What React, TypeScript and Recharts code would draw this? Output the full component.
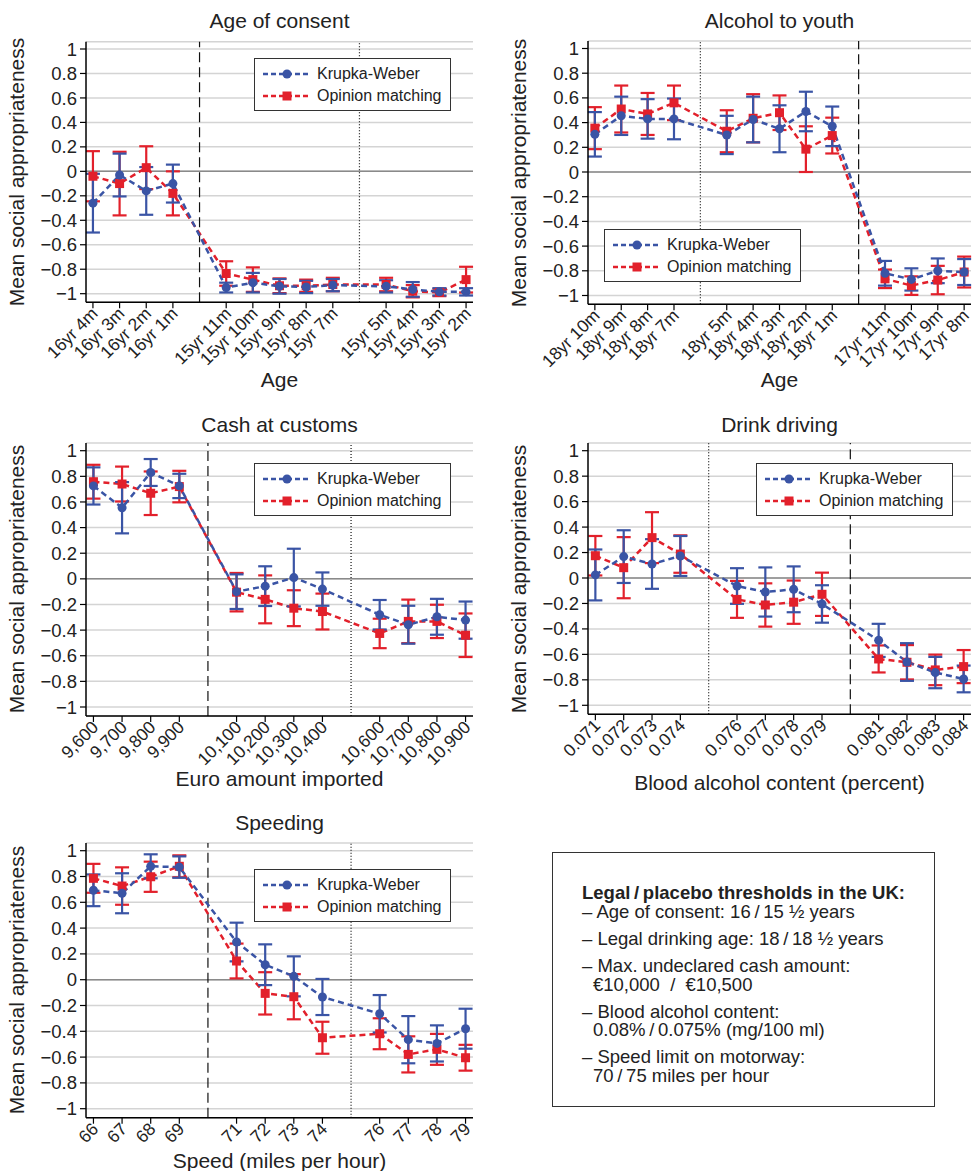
import React from "react";
import { LineChart, Line, XAxis, YAxis, CartesianGrid, ReferenceLine, ErrorBar } from "recharts";

const BLUE = "#3a54a5";
const RED = "#e2202b";
const INK = "#222";
const FONT = "'Liberation Sans', Arial, Helvetica, sans-serif";

// Age of consent ("" marks the threshold slots without observations)
const consentLabels = ["16yr 4m", "16yr 3m", "16yr 2m", "16yr 1m", "", "15yr 11m", "15yr 10m", "15yr 9m", "15yr 8m", "15yr 7m", "", "15yr 5m", "15yr 4m", "15yr 3m", "15yr 2m"];
const consentKW = [-0.26, -0.03, -0.16, -0.1, null, -0.95, -0.91, -0.94, -0.945, -0.93, null, -0.94, -0.965, -0.985, -0.985];
const consentKWErr = [0.24, 0.175, 0.195, 0.155, null, 0.04, 0.08, 0.06, 0.05, 0.05, null, 0.05, 0.06, 0.03, 0.03];
const consentOM = [-0.04, -0.1, 0.03, -0.18, null, -0.835, -0.885, -0.935, -0.935, -0.925, null, -0.925, -0.98, -0.99, -0.885];
const consentOMErr = [0.205, 0.26, 0.175, 0.18, null, 0.1, 0.1, 0.06, 0.05, 0.055, null, 0.055, 0.05, 0.03, 0.105];

// Alcohol to youth
const alcoholLabels = ["18yr 10m", "18yr 9m", "18yr 8m", "18yr 7m", "", "18yr 5m", "18yr 4m", "18yr 3m", "18yr 2m", "18yr 1m", "", "17yr 11m", "17yr 10m", "17yr 9m", "17yr 8m"];
const alcoholKW = [0.305, 0.455, 0.43, 0.43, null, 0.3, 0.425, 0.35, 0.49, 0.37, null, -0.82, -0.87, -0.8, -0.81];
const alcoholKWErr = [0.18, 0.155, 0.16, 0.165, null, 0.155, 0.185, 0.19, 0.16, 0.16, null, 0.1, 0.09, 0.1, 0.105];
const alcoholOM = [0.355, 0.51, 0.47, 0.56, null, 0.33, 0.435, 0.48, 0.185, 0.295, null, -0.865, -0.92, -0.875, -0.81];
const alcoholOMErr = [0.17, 0.19, 0.17, 0.14, null, 0.17, 0.195, 0.14, 0.185, 0.145, null, 0.075, 0.075, 0.115, 0.125];

// Cash at customs
const cashLabels = ["9,600", "9,700", "9,800", "9,900", "", "10,100", "10,200", "10,300", "10,400", "", "10,600", "10,700", "10,800", "10,900"];
const cashKW = [0.725, 0.555, 0.83, 0.725, null, -0.1, -0.057, 0.01, -0.08, null, -0.28, -0.358, -0.296, -0.322];
const cashKWErr = [0.145, 0.2, 0.105, 0.095, null, 0.135, 0.155, 0.225, 0.13, null, 0.115, 0.148, 0.14, 0.145];
const cashOM = [0.758, 0.74, 0.668, 0.72, null, -0.104, -0.16, -0.229, -0.255, null, -0.426, -0.332, -0.332, -0.44];
const cashOMErr = [0.132, 0.136, 0.17, 0.123, null, 0.15, 0.187, 0.14, 0.14, null, 0.115, 0.17, 0.13, 0.17];

// Drink driving
const drinkLabels = ["0.071", "0.072", "0.073", "0.074", "", "0.076", "0.077", "0.078", "0.079", "", "0.081", "0.082", "0.083", "0.084"];
const drinkKW = [0.024, 0.168, 0.11, 0.173, null, -0.063, -0.11, -0.089, -0.204, null, -0.49, -0.66, -0.743, -0.793];
const drinkKWErr = [0.2, 0.207, 0.195, 0.157, null, 0.14, 0.193, 0.18, 0.147, null, 0.13, 0.148, 0.123, 0.105];
const drinkOM = [0.175, 0.081, 0.317, 0.188, null, -0.168, -0.212, -0.19, -0.128, null, -0.636, -0.662, -0.722, -0.696];
const drinkOMErr = [0.155, 0.24, 0.2, 0.147, null, 0.145, 0.17, 0.17, 0.17, null, 0.106, 0.135, 0.12, 0.13];

// Speeding
const speedLabels = ["66", "67", "68", "69", "", "71", "72", "73", "74", "", "76", "77", "78", "79"];
const speedKW = [0.693, 0.67, 0.879, 0.873, null, 0.292, 0.116, 0.026, -0.134, null, -0.264, -0.465, -0.494, -0.38];
const speedKWErr = [0.123, 0.155, 0.093, 0.083, null, 0.15, 0.158, 0.155, 0.14, null, 0.145, 0.183, 0.14, 0.155];
const speedOM = [0.786, 0.726, 0.798, 0.879, null, 0.145, -0.106, -0.132, -0.45, null, -0.419, -0.579, -0.54, -0.605];
const speedOMErr = [0.112, 0.145, 0.117, 0.085, null, 0.135, 0.164, 0.175, 0.124, null, 0.12, 0.14, 0.12, 0.1];

const yTicks = [-1, -0.8, -0.6, -0.4, -0.2, 0, 0.2, 0.4, 0.6, 0.8, 1];

const boxTitle = "Legal\u2009/\u2009placebo thresholds in the UK:";
const boxItems = [
  ["\u2013 Age of consent: 16\u2009/\u200915 \u00bd years"],
  ["\u2013 Legal drinking age: 18\u2009/\u200918 \u00bd years"],
  ["\u2013 Max. undeclared cash amount:", "\u20ac10,000  /  \u20ac10,500"],
  ["\u2013 Blood alcohol content:", "0.08%\u2009/\u20090.075% (mg/100 ml)"],
  ["\u2013 Speed limit on motorway:", "70\u2009/\u200975 miles per hour"],
];

const panels = [
  { title: "Age of consent", xTitle: "Age", labels: consentLabels, kw: consentKW, kwErr: consentKWErr, om: consentOM, omErr: consentOMErr,
    dashed: 4, dotted: 10, left: 0, top: 0, plotL: 86, plotR: 473, y1: 49, ym1: 293.7, titleY: 21, xTitleY: 380, yTitleX: 17, legend: [254, 58] },
  { title: "Alcohol to youth", xTitle: "Age", labels: alcoholLabels, kw: alcoholKW, kwErr: alcoholKWErr, om: alcoholOM, omErr: alcoholOMErr,
    dashed: 10, dotted: 4, left: 487, top: 0, plotL: 588, plotR: 971, y1: 48.5, ym1: 295.5, titleY: 21, xTitleY: 380, yTitleX: 519, legend: [604, 229] },
  { title: "Cash at customs", xTitle: "Euro amount imported", labels: cashLabels, kw: cashKW, kwErr: cashKWErr, om: cashOM, omErr: cashOMErr,
    dashed: 4, dotted: 9, left: 0, top: 405, plotL: 86, plotR: 473, y1: 450.7, ym1: 707, titleY: 425, xTitleY: 779, yTitleX: 17, legend: [254, 463] },
  { title: "Drink driving", xTitle: "Blood alcohol content (percent)", labels: drinkLabels, kw: drinkKW, kwErr: drinkKWErr, om: drinkOM, omErr: drinkOMErr,
    dashed: 9, dotted: 4, left: 487, top: 405, plotL: 588, plotR: 971, y1: 450.7, ym1: 705.3, titleY: 425, xTitleY: 783, yTitleX: 519, legend: [756, 463] },
  { title: "Speeding", xTitle: "Speed (miles per hour)", labels: speedLabels, kw: speedKW, kwErr: speedKWErr, om: speedOM, omErr: speedOMErr,
    dashed: 4, dotted: 9, left: 0, top: 805, plotL: 86, plotR: 473, y1: 850.7, ym1: 1108.7, titleY: 823, xTitleY: 1161, yTitleX: 17, legend: [254, 869] },
];

const fmtY = (v: number) => {
  if (v === 0) return "0";
  if (v === 1) return "1";
  if (v === -1) return "\u22121";
  return v < 0 ? "\u2212" + Math.abs(v).toFixed(1) : v.toFixed(1);
};

const square = (props: any) => {
  const { cx, cy, index } = props;
  if (cx == null || cy == null) return <g key={`sq-${index}`} />;
  return <rect key={`sq-${index}`} x={cx - 4.5} y={cy - 4.5} width={9} height={9} fill={RED} />;
};

const LegendBox = ({ x, y }: { x: number; y: number }) => (
  <div style={{ position: "absolute", left: x, top: y, width: 197, height: 53, boxSizing: "border-box", border: "1.5px solid #333", background: "#fff", fontFamily: FONT, fontSize: 16, color: INK }}>
    {[{ c: BLUE, name: "Krupka-Weber", sq: false }, { c: RED, name: "Opinion matching", sq: true }].map((r, i) => (
      <div key={r.name} style={{ position: "absolute", left: 8, top: 4 + i * 22, height: 22, display: "flex", alignItems: "center", whiteSpace: "nowrap" }}>
        <svg width={48} height={12} style={{ marginRight: 6 }}>
          <line x1={0} y1={6} x2={48} y2={6} stroke={r.c} strokeWidth={2.5} strokeDasharray="5 3" />
          {r.sq ? <rect x={19.5} y={1.5} width={9} height={9} fill={r.c} /> : <circle cx={24} cy={6} r={4.5} fill={r.c} />}
        </svg>
        <span>{r.name}</span>
      </div>
    ))}
  </div>
);

const Panel = ({ p }: { p: any }) => {
  const n = p.labels.length;
  const s = (p.ym1 - p.y1) / 2;
  const yMax = 1.06;
  const yMin = -1.07;
  const plotTop = p.y1 - (yMax - 1) * s;
  const plotBottom = p.ym1 + (-1 - yMin) * s;
  const padR = 14;
  const W = p.plotR - p.left + padR;
  const H = plotBottom - p.top + 80;
  const yAxisW = 50;
  const margin = { top: plotTop - p.top, right: padR, left: p.plotL - p.left - yAxisW, bottom: 10 };

  const rows = p.labels
    .map((l: string, i: number) => ({ x: i, label: l, kw: p.kw[i], kwErr: p.kwErr[i], om: p.om[i], omErr: p.omErr[i] }))
    .filter((r: any) => r.label !== "");
  const ticks = rows.map((r: any) => r.x);

  const XTick = (props: any) => {
    const { x, y, payload } = props;
    const px = x + 6;
    const py = y + 4.5;
    return (
      <text x={px} y={py} textAnchor="end" transform={`rotate(-45 ${px} ${py})`} fontSize={17.5} fontFamily={FONT} fill={INK}>
        {p.labels[payload.value]}
      </text>
    );
  };

  const textBase = { position: "absolute" as const, fontFamily: FONT, color: INK, whiteSpace: "nowrap" as const };
  const midX = (p.plotL + p.plotR) / 2;
  const midY = (plotTop + plotBottom) / 2;

  return (
    <>
      <div style={{ position: "absolute", left: p.left, top: p.top }}>
        <LineChart width={W} height={H} data={rows} margin={margin}>
          <CartesianGrid horizontal vertical={false} stroke="#d4d4d4" strokeWidth={1.5} />
          <XAxis
            type="number"
            dataKey="x"
            domain={[-0.26, n - 1 + 0.26]}
            allowDataOverflow
            ticks={ticks}
            interval={0}
            tick={<XTick />}
            tickSize={6}
            tickMargin={2}
            height={80 - 10}
            axisLine={{ stroke: "#000", strokeWidth: 1.5 }}
            tickLine={{ stroke: "#000", strokeWidth: 1.2 }}
          />
          <YAxis
            type="number"
            domain={[yMin, yMax]}
            allowDataOverflow
            ticks={yTicks}
            interval={0}
            tickFormatter={fmtY}
            width={yAxisW}
            tickSize={6}
            tickMargin={3}
            tick={{ fontSize: 18.5, fontFamily: FONT, fill: INK }}
            axisLine={{ stroke: "#000", strokeWidth: 1.5 }}
            tickLine={{ stroke: "#000", strokeWidth: 1.2 }}
          />
          <ReferenceLine y={0} stroke="#8a8a8a" strokeWidth={1.5} />
          <ReferenceLine x={p.dashed} stroke="#111" strokeWidth={1.2} strokeDasharray="10 5" />
          <ReferenceLine x={p.dotted} stroke="#111" strokeWidth={1.2} strokeDasharray="1 2" />
          <Line dataKey="om" stroke={RED} strokeWidth={2.5} strokeDasharray="6 4" dot={square} activeDot={false} isAnimationActive={false}>
            <ErrorBar dataKey="omErr" direction="y" width={7} stroke={RED} strokeWidth={2.2} />
          </Line>
          <Line dataKey="kw" stroke={BLUE} strokeWidth={2.5} strokeDasharray="6 4" dot={{ r: 4.5, fill: BLUE, stroke: "none" }} activeDot={false} isAnimationActive={false}>
            <ErrorBar dataKey="kwErr" direction="y" width={7} stroke={BLUE} strokeWidth={2.2} />
          </Line>
        </LineChart>
      </div>
      <div style={{ ...textBase, left: midX, top: p.titleY, transform: "translate(-50%, -50%)", fontSize: 21 }}>{p.title}</div>
      <div style={{ ...textBase, left: midX, top: p.xTitleY, transform: "translate(-50%, -50%)", fontSize: 21 }}>{p.xTitle}</div>
      <div style={{ ...textBase, left: p.yTitleX, top: midY, transform: "translate(-50%, -50%) rotate(-90deg)", fontSize: 21 }}>
        Mean social appropriateness
      </div>
      <LegendBox x={p.legend[0]} y={p.legend[1]} />
    </>
  );
};

const InfoBox = () => (
  <div style={{ position: "absolute", left: 552, top: 852, width: 383, height: 255, boxSizing: "border-box", border: "1.5px solid #333", background: "#fff", fontFamily: FONT, fontSize: 18.5, color: INK, paddingTop: 30, paddingLeft: 29 }}>
    <div style={{ fontWeight: "bold", lineHeight: "20px", whiteSpace: "nowrap" }}>{boxTitle}</div>
    {boxItems.map((lines, i) => (
      <div key={i} style={{ marginTop: i === 0 ? 0 : 8.3 }}>
        {lines.map((t, j) => (
          <div key={j} style={{ lineHeight: "18.7px", whiteSpace: "pre", paddingLeft: j === 0 ? 0 : 11 }}>{t}</div>
        ))}
      </div>
    ))}
  </div>
);

export default function App() {
  return (
    <div style={{ position: "absolute", left: 0, top: 0, width: 974, height: 1171, overflow: "hidden", background: "#fff" }}>
      {panels.map((p) => (
        <Panel key={p.title} p={p} />
      ))}
      <InfoBox />
    </div>
  );
}
